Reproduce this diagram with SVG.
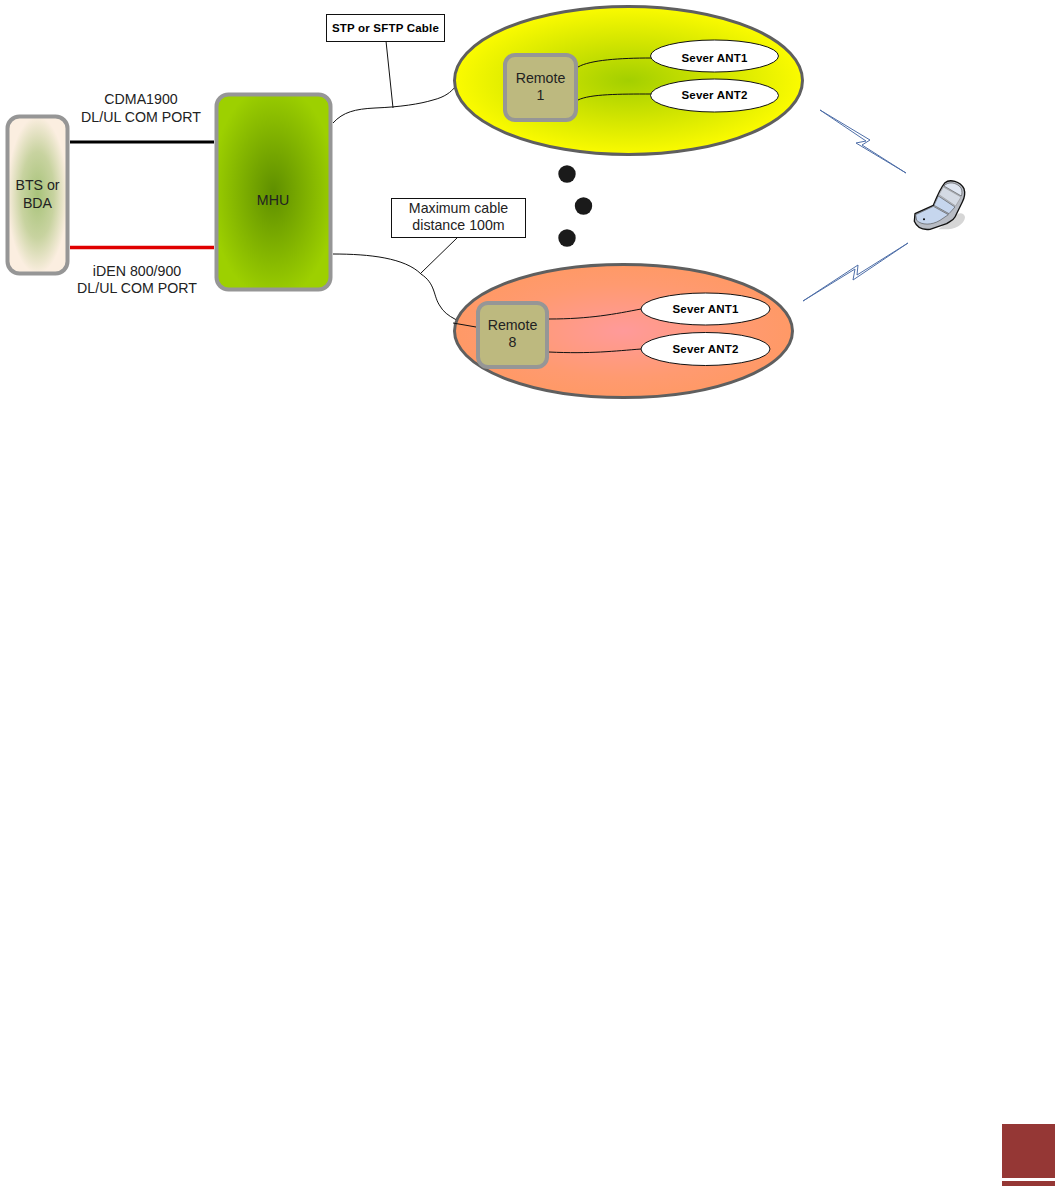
<svg xmlns="http://www.w3.org/2000/svg" width="1055" height="1186" viewBox="0 0 1055 1186">
<style>
text{font-family:"Liberation Sans",Arial,sans-serif;text-anchor:middle;fill:#222}
.t{font-size:14.2px}
.b{font-size:11.5px;font-weight:bold;letter-spacing:.2px;fill:#000}
.box{stroke:#969696;stroke-width:4}
.big{stroke:#5f5f5f;stroke-width:3}
.ant{fill:#fff;stroke:#111;stroke-width:1}
.w{fill:none;stroke:#111;stroke-width:1}
.lbl{fill:#fff;stroke:#111;stroke-width:1}
.z{fill:#fff;stroke:#4f6fa8;stroke-width:1;stroke-linejoin:miter}
.dot{fill:#1a1a1a}
</style>
<defs>
<radialGradient id="gB" cx=".5" cy=".5" r=".5"><stop offset="0" stop-color="#a8c37a"/><stop offset=".55" stop-color="#c8d3a0"/><stop offset="1" stop-color="#fbeee0"/></radialGradient>
<radialGradient id="gM" cx=".5" cy=".5" r=".55"><stop offset="0" stop-color="#5f8f00"/><stop offset="1" stop-color="#9dd000"/></radialGradient>
<radialGradient id="gY" cx=".5" cy=".5" r=".5"><stop offset="0" stop-color="#a3cf00"/><stop offset=".5" stop-color="#d0e400"/><stop offset="1" stop-color="#fbfb00"/></radialGradient>
<radialGradient id="gO" cx=".5" cy=".5" r=".5"><stop offset="0" stop-color="#ff9a9a"/><stop offset=".7" stop-color="#ff9a70"/><stop offset="1" stop-color="#ff9966"/></radialGradient>
</defs>
<g id="connectors">
<path d="M70 142H214" stroke="#000" stroke-width="3" fill="none"/>
<path d="M70 247.500H214" stroke="#e00000" stroke-width="3.500" fill="none"/>
<path class="w" d="M333 123C343 112 355 109 375 108C400 107 420 104 433 100C445 97 451 92 455 87"/>
<path class="w" d="M386 41L393 108"/>
<path class="w" d="M333 254C370 254 405 258 421 274C436 284 433 296 440 306C446 317 462 323 476 327"/>
<path class="w" d="M421 273L458 237"/>
</g>
<g id="bts"><rect class="box" x="7.500" y="116.500" width="60" height="157" rx="12" fill="url(#gB)"/><text class="t" x="37.500" y="190">BTS or</text><text class="t" x="37.500" y="208">BDA</text></g>
<g id="mhu"><rect class="box" x="216.500" y="94.500" width="114" height="195" rx="12" fill="url(#gM)"/><text class="t" x="273" y="205">MHU</text></g>
<g id="label-cdma"><text class="t" x="141" y="104">CDMA1900</text><text class="t" x="141" y="121.500">DL/UL COM PORT</text></g>
<g id="label-iden"><text class="t" x="137" y="276">iDEN 800/900</text><text class="t" x="137" y="293">DL/UL COM PORT</text></g>
<g id="stp-label"><rect class="lbl" x="326.500" y="14.500" width="118" height="27"/><text class="b" x="385.500" y="32">STP or SFTP Cable</text></g>
<g id="max-label"><rect class="lbl" x="391.500" y="198.500" width="134" height="39"/><text class="t" x="458.500" y="213">Maximum cable</text><text class="t" x="458.500" y="230">distance 100m</text></g>
<g id="zone-1">
<ellipse class="big" cx="628.500" cy="80.500" rx="174" ry="74" fill="url(#gY)"/>
<path class="w" d="M578 67C590 60 620 58 651 58"/>
<path class="w" d="M578 100C590 94 620 94 651 94"/>
<g id="remote-1"><rect class="box" x="505" y="55" width="71" height="65" rx="10" fill="#bdb97f"/><text class="t" x="540.500" y="83">Remote</text><text class="t" x="540.500" y="100">1</text></g>
<g id="ant1-1"><ellipse class="ant" cx="714.500" cy="56" rx="64" ry="16"/><text class="b" x="714.500" y="62">Sever ANT1</text></g>
<g id="ant2-1"><ellipse class="ant" cx="714.500" cy="95.500" rx="64" ry="16.500"/><text class="b" x="714.500" y="99">Sever ANT2</text></g>
</g>
<g id="zone-8">
<ellipse class="big" cx="623.500" cy="331" rx="169" ry="66.500" fill="url(#gO)"/>
<path class="w" d="M549 319C590 319 615 314 641 309"/>
<path class="w" d="M549 352C590 354 615 351 641 349"/>
<path class="w" d="M453 323L476 327"/>
<g id="remote-8"><rect class="box" x="478" y="303" width="69" height="64" rx="10" fill="#bdb97f"/><text class="t" x="512.500" y="330">Remote</text><text class="t" x="512.500" y="347">8</text></g>
<g id="ant1-8"><ellipse class="ant" cx="705.500" cy="309" rx="64.500" ry="16"/><text class="b" x="705.500" y="313">Sever ANT1</text></g>
<g id="ant2-8"><ellipse class="ant" cx="705.500" cy="349" rx="64.500" ry="16.500"/><text class="b" x="705.500" y="353">Sever ANT2</text></g>
</g>
<g id="dots"><circle class="dot" cx="567" cy="174" r="8.700"/><circle class="dot" cx="583.500" cy="206" r="8.700"/><circle class="dot" cx="567" cy="238" r="8.700"/></g>
<g id="wireless">
<path class="z" d="M820 110L870 140L862 145L906 173L856 143L866 141Z"/>
<path class="z" d="M803 301L858 265L857 275L908 243L853 280L855 269Z"/>
</g>
<g id="phone" transform="translate(905 172) scale(.3333)">
<path d="M145 135C160 118 178 122 180 135C180 150 160 170 130 172L100 172Z" fill="#d6d6d6"/>
<path d="M30 125L85 100C95 75 105 50 120 32C135 20 165 28 177 50C182 65 178 78 172 90L150 135C145 145 135 148 125 155L75 172C50 175 35 165 28 148Z" fill="#b8bcc4" stroke="#111" stroke-width="4" stroke-linejoin="round"/>
<path d="M32 128L85 103L130 128L105 145C80 160 50 160 35 145Z" fill="#c6d6ee" stroke="#333" stroke-width="1.500"/>
<path d="M87 100L100 72L150 105L132 125Z" fill="#c6d6ee" stroke="#333" stroke-width="1.500"/>
<path d="M102 68L115 45L168 75L152 102Z" fill="#d4dae4" stroke="#888" stroke-width="1.500"/>
<path d="M117 42C128 28 155 30 168 48C172 58 171 66 169 72Z" fill="#dfe6f2" stroke="#333" stroke-width="1.500"/>
<circle cx="57" cy="142" r="3" fill="#000"/>
</g>
<g id="page-mark"><rect x="1002" y="1124" width="53" height="54" fill="#953735"/><rect x="1002" y="1181" width="53" height="5" fill="#953735"/></g>
</svg>
